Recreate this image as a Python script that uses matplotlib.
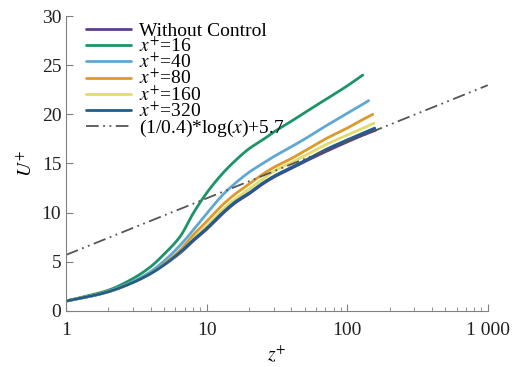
import numpy as np
import matplotlib
matplotlib.use("Agg")
import matplotlib.pyplot as plt

plt.rcParams['font.family'] = ['Liberation Serif', 'DejaVu Serif']
plt.rcParams['mathtext.fontset'] = 'stix'

# z+ positions and U+ values
z_base = [1, 1.5, 2, 3, 4, 5, 6.5, 8, 10, 13, 16, 20, 25, 30, 40, 50, 70, 100, 130]

u_none = [1.0, 1.5, 1.95, 2.9, 3.8, 4.7, 5.9, 7.1, 8.3, 9.9, 11.0, 11.9, 12.9, 13.6, 14.5, 15.2, 16.2, 17.2, 17.9, 18.4]
z_none = z_base + [160]

u_320 = [1.0, 1.5, 1.95, 2.9, 3.8, 4.7, 6.0, 7.2, 8.4, 10.0, 11.1, 12.0, 13.0, 13.7, 14.6, 15.3, 16.4, 17.4, 18.1, 18.6]
z_320 = z_base + [157]

u_160 = [1.0, 1.5, 1.95, 2.9, 3.8, 4.7, 6.0, 7.3, 8.6, 10.3, 11.4, 12.4, 13.4, 14.2, 15.1, 15.8, 16.9, 17.9, 18.6, 19.1]
z_160 = z_base + [155]

u_80 = [1.0, 1.5, 1.95, 2.9, 3.8, 4.8, 6.2, 7.7, 9.1, 10.8, 11.9, 12.9, 13.9, 14.6, 15.5, 16.3, 17.5, 18.6, 19.5, 20.0]
z_80 = z_base + [152]

u_40 = [1.0, 1.5, 2.0, 3.0, 4.0, 5.1, 6.7, 8.2, 9.9, 11.8, 13.0, 14.1, 15.0, 15.7, 16.7, 17.5, 18.8, 20.1, 20.9, 21.4]
z_40 = z_base[:-1] + [125, 142]

u_16 = [1.0, 1.6, 2.1, 3.3, 4.5, 5.8, 7.6, 9.9, 12.0, 14.0, 15.3, 16.5, 17.4, 18.2, 19.3, 20.2, 21.5, 22.9, 24.0]
z_16 = z_base[:-1] + [129]

series = [
    ("Without Control", z_none, u_none, "#5b3f8f"),
    ("$x^{+}$=16", z_16, u_16, "#1b9466"),
    ("$x^{+}$=40", z_40, u_40, "#5fa8d3"),
    ("$x^{+}$=80", z_80, u_80, "#dd9a2c"),
    ("$x^{+}$=160", z_160, u_160, "#e3dc6a"),
    ("$x^{+}$=320", z_320, u_320, "#1f5d8c"),
]


def pchip(x, y, xs):
    # monotone cubic through the read points, so the curves come out smooth
    x = np.asarray(x, float)
    y = np.asarray(y, float)
    h = np.diff(x)
    d = np.diff(y) / h
    m = np.zeros_like(y)
    for k in range(1, len(x) - 1):
        if d[k - 1] * d[k] > 0:
            w1 = 2 * h[k] + h[k - 1]
            w2 = h[k] + 2 * h[k - 1]
            m[k] = (w1 + w2) / (w1 / d[k - 1] + w2 / d[k])
    m[0] = d[0]
    m[-1] = d[-1]
    i = np.clip(np.searchsorted(x, xs) - 1, 0, len(x) - 2)
    t = (xs - x[i]) / h[i]
    h00 = 2 * t**3 - 3 * t**2 + 1
    h10 = t**3 - 2 * t**2 + t
    h01 = -2 * t**3 + 3 * t**2
    h11 = t**3 - t**2
    return h00 * y[i] + h10 * h[i] * m[i] + h01 * y[i + 1] + h11 * h[i] * m[i + 1]


fig = plt.figure(figsize=(5.29, 3.67), dpi=100)
ax = fig.add_axes([0.125, 0.153, 0.797, 0.803])

for label, z, u, c in series:
    zs = np.geomspace(z[0], z[-1], 300)
    us = pchip(np.log(z), u, np.log(zs))
    ax.plot(zs, us, color=c, lw=2, label=label, solid_capstyle='round')

# log law
z_log = np.geomspace(1, 1000, 200)
ax.plot(z_log, (1 / 0.4) * np.log(z_log) + 5.7, color="#555555", lw=1.3,
        dashes=(7, 2.5, 1, 2.5, 1, 2.5), label="(1/0.4)*log($x$)+5.7")

ax.set_xscale("log")
ax.set_xlim(1, 1000)
ax.set_ylim(0, 30)
ax.set_yticks(range(0, 31, 5))
ax.set_xticks([1, 10, 100, 1000])
ax.set_xticklabels(["1", "10", "100", "1 000"])

for s in ["top", "right"]:
    ax.spines[s].set_visible(False)
for s in ["left", "bottom"]:
    ax.spines[s].set_color("#808080")
ax.tick_params(which="both", direction="in", colors="#808080", labelcolor="#222222",
               labelsize=14)
ax.tick_params(which="major", length=5)
ax.tick_params(which="minor", length=3)
ax.tick_params(axis="x", pad=8)

ax.set_xlabel("$z^{+}$", fontsize=14)
ax.set_ylabel("$U^{+}$", fontsize=14)

leg = ax.legend(loc="upper left", bbox_to_anchor=(0.02, 1.02), frameon=False,
                fontsize=14, labelspacing=-0.17, handlelength=2.3,
                handletextpad=0.4, borderaxespad=0.2)

fig.savefig("out.png", dpi=100)
